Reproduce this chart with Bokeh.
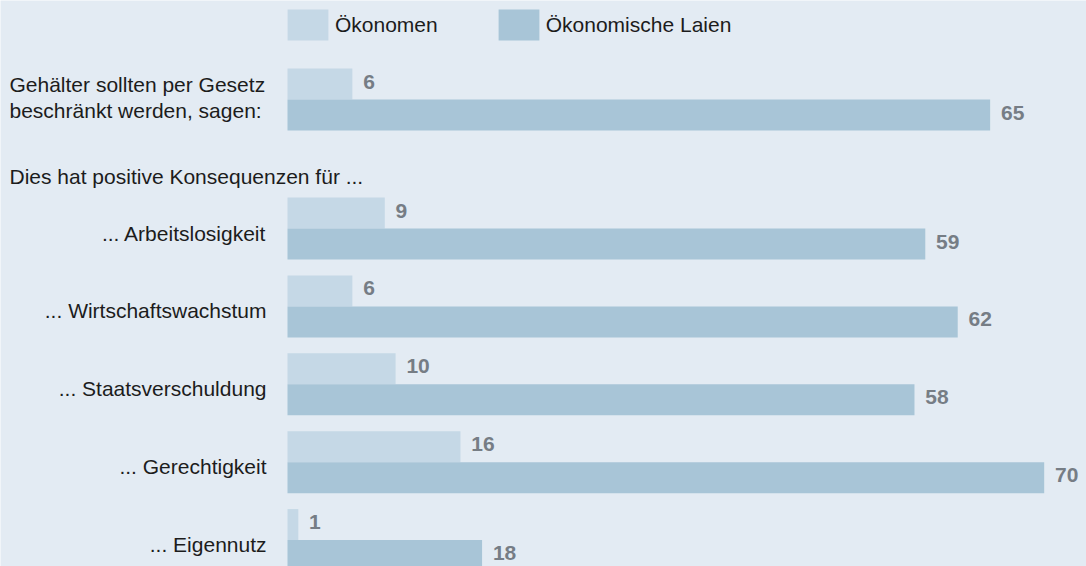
from bokeh.plotting import figure
from bokeh.models import Range1d, ColumnDataSource, Legend, LegendItem
from bokeh.core.properties import value
from bokeh.embed import file_html
from bokeh.resources import INLINE

# ---------------- data ----------------
categories = ["Gehälter sollten per Gesetz beschränkt werden, sagen:",
              "... Arbeitslosigkeit", "... Wirtschaftswachstum",
              "... Staatsverschuldung", "... Gerechtigkeit", "... Eigennutz"]
first_label_lines = ["Gehälter sollten per Gesetz", "beschränkt werden, sagen:"]
header = "Dies hat positive Konsequenzen für ..."
series_names = ["Ökonomen", "Ökonomische Laien"]
oekonomen = [6, 9, 6, 10, 16, 1]
laien = [65, 59, 62, 58, 70, 18]

# ---------------- style / layout ----------------
BG = "#e3ebf3"
LIGHT = "#c5d8e6"
DARK = "#a8c5d7"
NUM = "#767d85"
TXT = "#1c1c1c"
FONT = value("Liberation Sans")
FS = "21px"

W, H = 1086, 566
PXU = 10.81          # pixels per percent
X0 = 287             # pixel column of value 0

def ux(px):          # pixel column -> value units
    return (px - X0) / PXU

bar_h = 31
bounds = [99] + [228 + i * 77.9 for i in range(5)]
light_y = [b - bar_h / 2 for b in bounds]
dark_y = [b + bar_h / 2 for b in bounds]

p = figure(width=W, height=H, output_backend="svg", toolbar_location=None,
           x_range=Range1d(ux(0), ux(W)), y_range=Range1d(H, 0),
           min_border=0, outline_line_color=None,
           background_fill_color=BG, border_fill_color=BG)
p.axis.visible = False
p.grid.visible = False

src = ColumnDataSource(dict(cat=categories, oek=oekonomen, lai=laien,
                            ly=light_y, dy=dark_y,
                            oek_x=[v + 1.0 for v in oekonomen],
                            lai_x=[v + 1.0 for v in laien],
                            oek_t=[str(v) for v in oekonomen],
                            lai_t=[str(v) for v in laien],
                            oek_ty=[y - 2.5 for y in light_y],
                            lai_ty=[y - 2.5 for y in dark_y]))

r1 = p.hbar(y="ly", left=0, right="oek", height=bar_h, source=src,
            fill_color=LIGHT, line_color=None)
r2 = p.hbar(y="dy", left=0, right="lai", height=bar_h, source=src,
            fill_color=DARK, line_color=None)

for xs, ys, ts in (("oek_x", "oek_ty", "oek_t"), ("lai_x", "lai_ty", "lai_t")):
    p.text(x=xs, y=ys, text=ts, source=src, text_font=FONT,
           text_font_size=FS, text_font_style="bold", text_color=NUM,
           text_align="left", text_baseline="alphabetic")

# category labels
lab = ColumnDataSource(dict(x=[ux(266)] * 5, y=[b + 4.5 for b in bounds[1:]],
                            t=categories[1:]))
p.text(x="x", y="y", text="t", source=lab, text_font=FONT, text_font_size=FS,
       text_color=TXT, text_align="right", text_baseline="alphabetic")

lab1 = ColumnDataSource(dict(x=[ux(9)] * 3, y=[83.5, 109.5, 176],
                             t=first_label_lines + [header]))
p.text(x="x", y="y", text="t", source=lab1, text_font=FONT, text_font_size=FS,
       text_color=TXT, text_align="left", text_baseline="alphabetic")

legend = Legend(items=[LegendItem(label=series_names[0], renderers=[r1]),
                       LegendItem(label=series_names[1], renderers=[r2])],
                orientation="horizontal", location=(282, H - 5 - 39),
                glyph_width=51, glyph_height=39, label_height=39,
                label_standoff=2, spacing=55, padding=0, margin=0,
                border_line_color=None, background_fill_alpha=0,
                label_text_font="Liberation Sans", label_text_font_size=FS,
                label_text_color=TXT)
p.add_layout(legend)

open("out.html", "w").write(file_html(p, INLINE))
